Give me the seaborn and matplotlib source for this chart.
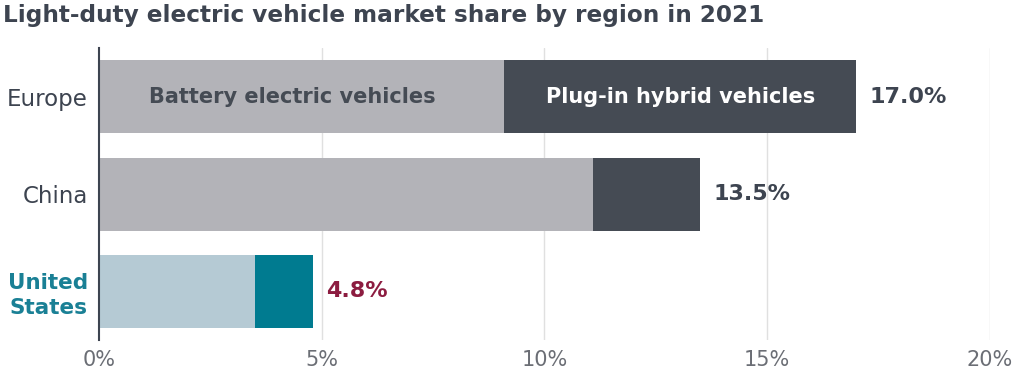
import matplotlib
matplotlib.use("Agg")
import matplotlib.pyplot as plt
import seaborn as sns
import pandas as pd

regions = ["Europe", "China", "United\nStates"]
bev = [9.1, 11.1, 3.5]
phev = [7.9, 2.4, 1.3]
total_labels = ["17.0%", "13.5%", "4.8%"]
xticks = [0, 5, 10, 15, 20]
xtick_labels = ["0%", "5%", "10%", "15%", "20%"]

bev_colors = ["#b3b3b8", "#b3b3b8", "#b5cad4"]
phev_colors = ["#454b54", "#454b54", "#007b90"]
label_colors = ["#3d4450", "#3d4450", "#1a8095"]
value_colors = ["#3d4450", "#3d4450", "#8c1c40"]

sns.set_theme(style="white")
plt.rcParams["font.family"] = ["DejaVu Sans"]

df = pd.DataFrame({"region": regions, "bev": bev, "phev": phev})
df["total"] = df["bev"] + df["phev"]

fig = plt.figure(figsize=(10.24, 3.75), dpi=100)
ax = fig.add_axes([0.0967, 0.093, 0.870, 0.779])

sns.barplot(data=df, x="total", y="region", hue="region", palette=phev_colors,
            legend=False, ax=ax, width=0.75, saturation=1, zorder=2, linewidth=0)
sns.barplot(data=df, x="bev", y="region", hue="region", palette=bev_colors,
            legend=False, ax=ax, width=0.75, saturation=1, zorder=3, linewidth=0)

ax.set_xlim(0, 20)
ax.set_ylim(2.5, -0.5)
ax.set_xticks(xticks)
ax.set_xticklabels(xtick_labels, fontsize=15, color="#6b6e75")
ax.tick_params(axis="x", length=0, pad=7)
ax.tick_params(axis="y", length=0, pad=8)
ax.set_xlabel("")
ax.set_ylabel("")
for x in xticks[1:]:
    ax.axvline(x, color="#e0e0e0", lw=1, zorder=0)
for s in ["top", "right", "bottom"]:
    ax.spines[s].set_visible(False)
ax.spines["left"].set_color("#3d4450")
ax.spines["left"].set_linewidth(1.5)
ax.spines["left"].set_zorder(5)

ax.set_yticks(range(len(regions)))
ax.set_yticklabels(regions, fontsize=16.5)
for lbl, c, i in zip(ax.get_yticklabels(), label_colors, range(3)):
    lbl.set_color(c)
    if i == 2:
        lbl.set_fontweight("bold")
        lbl.set_fontsize(15.5)
        lbl.set_linespacing(1.3)

for i, (t, lab) in enumerate(zip(df["total"], total_labels)):
    ax.text(t + 0.3, i, lab, va="center", ha="left", fontsize=16,
            fontweight="bold", color=value_colors[i])

ax.text(df["bev"][0] / 2 - 0.2, 0, "Battery electric vehicles", ha="center", va="center",
        fontsize=15, fontweight="bold", color="#454b54", zorder=6)
ax.text(df["bev"][0] + df["phev"][0] / 2, 0, "Plug-in hybrid vehicles", ha="center",
        va="center", fontsize=15, fontweight="bold", color="white", zorder=6)

fig.text(0.003, 0.958, "Light-duty electric vehicle market share by region in 2021",
         ha="left", va="center", fontsize=16.7, fontweight="bold", color="#3d4450")

fig.savefig("out.png", dpi=100)
